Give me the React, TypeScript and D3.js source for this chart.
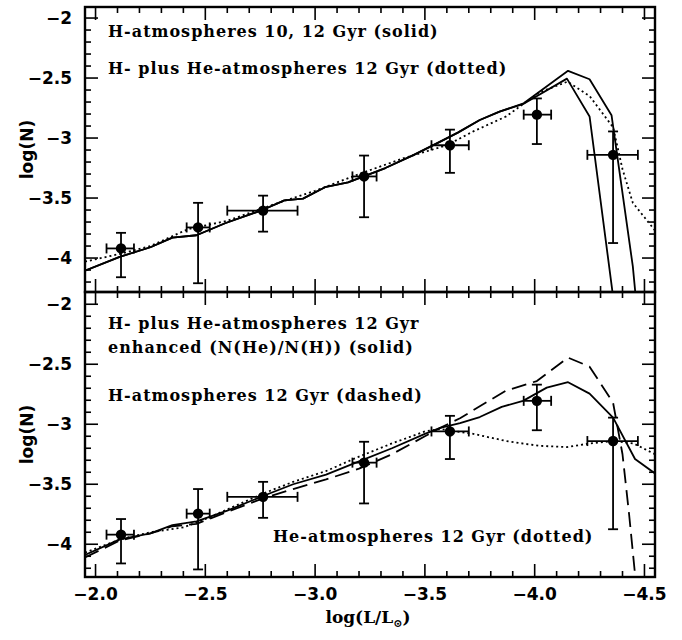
import React from "react";
import * as d3 from "d3";

// ---- data ----
const pointX = [-2.116, -2.467, -2.763, -3.223, -3.614, -4.01, -4.357];
const pointY = [-3.92, -3.745, -3.605, -3.32, -3.06, -2.805, -3.14];
const yErrLow = [-4.16, -4.21, -3.78, -3.66, -3.29, -3.05, -3.875];
const yErrHigh = [-3.79, -3.54, -3.48, -3.146, -2.93, -2.67, -2.945];
const xErrLeft = [-2.05, -2.415, -2.6, -3.17, -3.53, -3.95, -4.24];
const xErrRight = [-2.175, -2.52, -2.92, -3.28, -3.7, -4.075, -4.47];

// top panel: H-atmospheres 10 Gyr / 12 Gyr (solid), H+He 12 Gyr (dotted)
const topSolidA: [number, number][] = [
  [-1.952, -4.105], [-2.11, -3.99], [-2.25, -3.91], [-2.35, -3.83], [-2.46, -3.81],
  [-2.59, -3.71], [-2.76, -3.6], [-2.86, -3.52], [-2.945, -3.505], [-3.045, -3.41],
  [-3.15, -3.37], [-3.32, -3.25], [-3.45, -3.14], [-3.57, -3.03], [-3.65, -2.955],
  [-3.75, -2.85], [-3.84, -2.78], [-3.95, -2.71], [-4.152, -2.44], [-4.25, -2.51],
  [-4.35, -2.81], [-4.447, -4.07], [-4.46, -4.32],
];
const topSolidB: [number, number][] = [
  [-1.952, -4.105], [-2.11, -3.99], [-2.25, -3.91], [-2.35, -3.83], [-2.46, -3.81],
  [-2.59, -3.71], [-2.76, -3.6], [-2.86, -3.52], [-2.945, -3.505], [-3.045, -3.41],
  [-3.15, -3.37], [-3.32, -3.25], [-3.45, -3.14], [-3.57, -3.03], [-3.65, -2.955],
  [-3.75, -2.85], [-3.84, -2.78], [-3.95, -2.715], [-4.147, -2.505], [-4.25, -2.82],
  [-4.357, -4.32],
];
const topDotted: [number, number][] = [
  [-1.952, -4.03], [-2.1, -3.97], [-2.25, -3.9], [-2.42, -3.76], [-2.6, -3.69],
  [-2.8, -3.56], [-3.0, -3.44], [-3.2, -3.3], [-3.4, -3.17], [-3.6, -3.06],
  [-3.72, -2.945], [-3.87, -2.82], [-4.02, -2.62], [-4.15, -2.53], [-4.25, -2.65],
  [-4.357, -2.91], [-4.4, -3.26], [-4.447, -3.54], [-4.548, -3.77],
];

// bottom panel
const botSolid: [number, number][] = [
  [-1.952, -4.09], [-2.11, -3.96], [-2.25, -3.91], [-2.35, -3.84], [-2.46, -3.81],
  [-2.6, -3.72], [-2.76, -3.6], [-2.9, -3.5], [-3.05, -3.42], [-3.2, -3.31],
  [-3.35, -3.2], [-3.5, -3.08], [-3.57, -3.03], [-3.66, -2.99], [-3.75, -2.94],
  [-3.85, -2.855], [-3.947, -2.805], [-4.055, -2.695], [-4.152, -2.65], [-4.25, -2.745],
  [-4.357, -2.945], [-4.457, -3.29], [-4.548, -3.41],
];
const botDashed: [number, number][] = [
  [-1.952, -4.11], [-2.11, -3.97], [-2.25, -3.91], [-2.35, -3.85], [-2.46, -3.83],
  [-2.6, -3.73], [-2.76, -3.62], [-2.9, -3.54], [-3.05, -3.46], [-3.2, -3.37],
  [-3.35, -3.25], [-3.5, -3.1], [-3.57, -3.03], [-3.66, -2.95], [-3.75, -2.85],
  [-3.87, -2.72], [-4.01, -2.64], [-4.152, -2.445], [-4.25, -2.52], [-4.357, -2.82],
  [-4.4, -3.25], [-4.43, -3.75], [-4.457, -4.25], [-4.46, -4.32],
];
const botDotted: [number, number][] = [
  [-1.952, -4.07], [-2.11, -3.96], [-2.25, -3.9], [-2.4, -3.86], [-2.5, -3.79],
  [-2.6, -3.71], [-2.76, -3.58], [-2.9, -3.48], [-3.05, -3.39], [-3.2, -3.27],
  [-3.35, -3.16], [-3.5, -3.06], [-3.57, -3.04], [-3.72, -3.08], [-3.87, -3.14],
  [-4.02, -3.18], [-4.147, -3.19], [-4.25, -3.16], [-4.357, -3.14], [-4.45, -3.16],
  [-4.548, -3.25],
];

const xTickLabels = ["-2.0", "-2.5", "-3.0", "-3.5", "-4.0", "-4.5"];
const yTickLabels = ["-2", "-2.5", "-3", "-3.5", "-4"];

const topTexts = [
  "H-atmospheres 10, 12 Gyr (solid)",
  "H-  plus He-atmospheres 12 Gyr (dotted)",
];
const botTexts = [
  "H-  plus He-atmospheres 12 Gyr",
  "enhanced (N(He)/N(H)) (solid)",
  "H-atmospheres 12 Gyr (dashed)",
  "He-atmospheres 12 Gyr (dotted)",
];

// ---- layout ----
const W = 682;
const H = 640;
const LEFT = 85;
const RIGHT = 655;
const xScale = d3.scaleLinear().domain([-1.952, -4.548]).range([LEFT, RIGHT]);
const yTop = d3.scaleLinear().domain([-4.283, -1.908]).range([292, 7]);
const yBot = d3.scaleLinear().domain([-4.273, -1.898]).range([577, 292]);

const labelFont = "'DejaVu Serif', serif";
const tickFont = "'DejaVu Sans', sans-serif";

const minorX = d3.range(20, 46).map((d) => -d / 10);
const minorY = d3.range(20, 43).map((d) => -d / 10);

function Panel({
  y,
  id,
  curves,
  showXLabels,
}: {
  y: d3.ScaleLinear<number, number>;
  id: string;
  curves: { data: [number, number][]; dash?: string; width?: number }[];
  showXLabels: boolean;
}) {
  const [y0, y1] = y.range(); // bottom, top
  const line = d3
    .line<[number, number]>()
    .x((d) => xScale(d[0]))
    .y((d) => y(d[1]));
  const ticks: JSX.Element[] = [];
  minorX.forEach((v, i) => {
    const major = Math.round(v * 10) % 5 === 0;
    const L = major ? 13 : 6;
    const px = xScale(v);
    ticks.push(<line key={"xb" + i} x1={px} x2={px} y1={y0} y2={y0 - L} />);
    ticks.push(<line key={"xt" + i} x1={px} x2={px} y1={y1} y2={y1 + L} />);
  });
  minorY.forEach((v, i) => {
    const major = Math.round(v * 10) % 5 === 0;
    const L = major ? 13 : 6;
    const py = y(v);
    ticks.push(<line key={"yl" + i} x1={LEFT} x2={LEFT + L} y1={py} y2={py} />);
    ticks.push(<line key={"yr" + i} x1={RIGHT} x2={RIGHT - L} y1={py} y2={py} />);
  });
  return (
    <g>
      <defs>
        <clipPath id={id}>
          <rect x={LEFT} y={y1} width={RIGHT - LEFT} height={y0 - y1} />
        </clipPath>
      </defs>
      <g stroke="#000" strokeWidth={1.6}>{ticks}</g>
      <g clipPath={`url(#${id})`} fill="none" stroke="#000">
        {curves.map((c, i) => (
          <path
            key={i}
            d={line(c.data) || ""}
            strokeWidth={c.width ?? 1.8}
            strokeDasharray={c.dash}
            strokeLinejoin="round"
          />
        ))}
      </g>
      <g stroke="#000" strokeWidth={1.8}>
        {pointX.map((px, i) => {
          const cx = xScale(px);
          const cy = y(pointY[i]);
          const yl = y(yErrLow[i]);
          const yh = y(yErrHigh[i]);
          const xl = xScale(xErrLeft[i]);
          const xr = xScale(xErrRight[i]);
          return (
            <g key={i}>
              <line x1={cx} x2={cx} y1={yl} y2={yh} />
              <line x1={cx - 5} x2={cx + 5} y1={yl} y2={yl} />
              <line x1={cx - 5} x2={cx + 5} y1={yh} y2={yh} />
              <line x1={xl} x2={xr} y1={cy} y2={cy} />
              <line x1={xl} x2={xl} y1={cy - 5} y2={cy + 5} />
              <line x1={xr} x2={xr} y1={cy - 5} y2={cy + 5} />
              <circle cx={cx} cy={cy} r={5.2} fill="#000" stroke="none" />
            </g>
          );
        })}
      </g>
      <rect
        x={LEFT}
        y={y1}
        width={RIGHT - LEFT}
        height={y0 - y1}
        fill="none"
        stroke="#000"
        strokeWidth={2.4}
      />
      <g fontFamily={tickFont} fontSize={17} fontWeight="bold" textAnchor="end">
        {yTickLabels.map((t) => (
          <text key={t} x={72} y={y(+t)} dy="0.36em">
            {t.replace("-", "\u2212")}
          </text>
        ))}
      </g>
      {showXLabels && (
        <g fontFamily={tickFont} fontSize={17} fontWeight="bold" textAnchor="middle">
          {xTickLabels.map((t) => (
            <text key={t} x={xScale(+t)} y={600}>
              {t.replace("-", "\u2212")}
            </text>
          ))}
        </g>
      )}
      <text
        transform={`translate(33,${(y0 + y1) / 2}) rotate(-90)`}
        textAnchor="middle"
        fontFamily={tickFont}
        fontWeight="bold"
        fontSize={17}
      >
        log(N)
      </text>
    </g>
  );
}

export default function App() {
  const textStyle = {
    fontFamily: labelFont,
    fontWeight: "bold" as const,
    fontSize: 16,
    letterSpacing: 1,
    whiteSpace: "pre" as const,
  };
  return (
    <svg
      width={W}
      height={H}
      viewBox={`0 0 ${W} ${H}`}
      style={{ position: "absolute", left: 0, top: 0, background: "#fff" }}
    >
      <rect x={0} y={0} width={W} height={H} fill="#fff" />
      <Panel
        y={yTop}
        id="clipTop"
        showXLabels={false}
        curves={[
          { data: topSolidA },
          { data: topSolidB },
          { data: topDotted, dash: "2 3", width: 1.8 },
        ]}
      />
      <Panel
        y={yBot}
        id="clipBot"
        showXLabels={true}
        curves={[
          { data: botSolid },
          { data: botDashed, dash: "15 7" },
          { data: botDotted, dash: "2 3", width: 1.8 },
        ]}
      />
      <g style={textStyle}>
        <text x={108} y={37}>{topTexts[0]}</text>
        <text x={108} y={74}>{topTexts[1]}</text>
        <text x={108} y={329}>{botTexts[0]}</text>
        <text x={108} y={353}>{botTexts[1]}</text>
        <text x={108} y={401}>{botTexts[2]}</text>
        <text x={273} y={542}>{botTexts[3]}</text>
      </g>
      <text
        x={368}
        y={623}
        textAnchor="middle"
        fontFamily={labelFont}
        fontWeight="bold"
        fontSize={17}
      >
        log(L/L
        <tspan fontSize={11} dy={4}>
          {"\u2299"}
        </tspan>
        <tspan dy={-4}>)</tspan>
      </text>
    </svg>
  );
}
